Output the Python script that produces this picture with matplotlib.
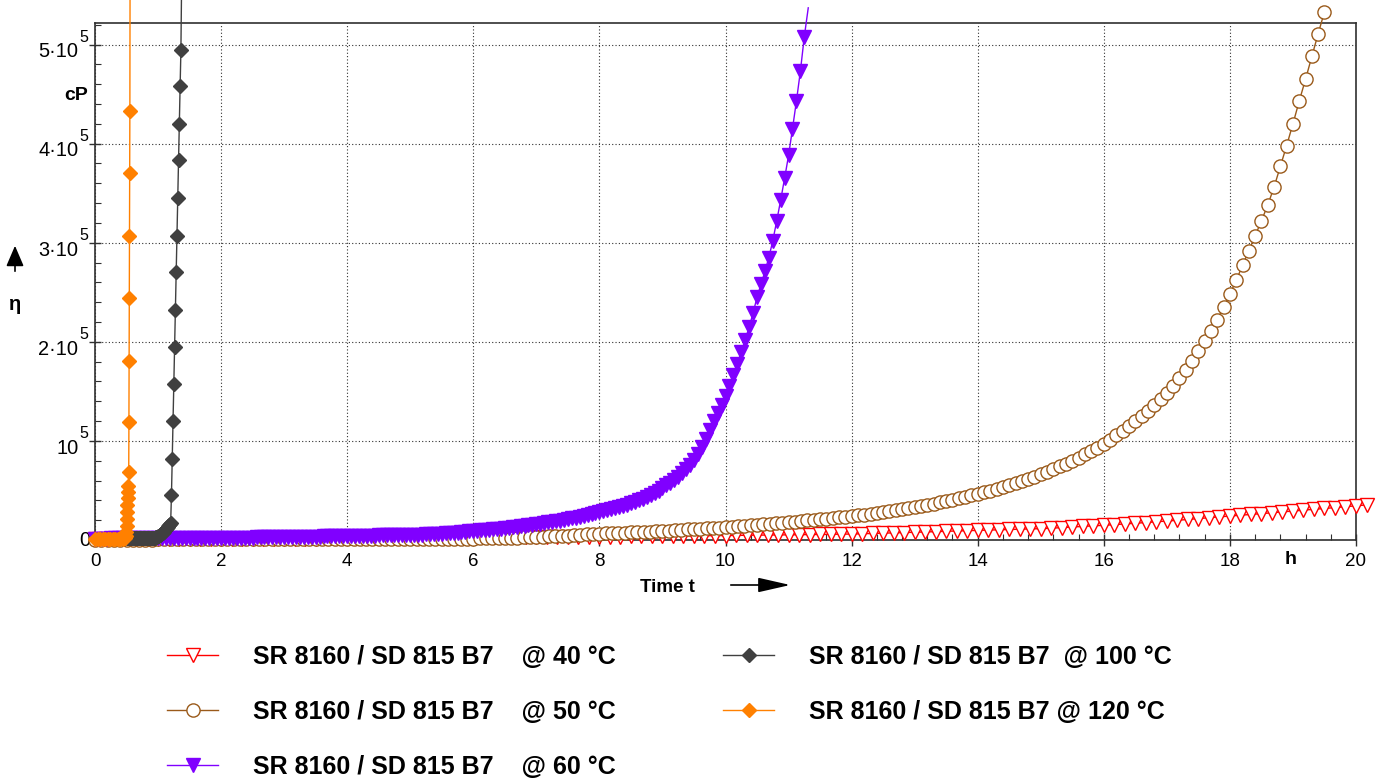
import numpy as np
import matplotlib
matplotlib.use("Agg")
import matplotlib.pyplot as plt
from matplotlib.ticker import FixedLocator, MultipleLocator
from matplotlib.transforms import ScaledTranslation

plt.rcParams['font.family'] = ['Liberation Sans', 'DejaVu Sans']

# ---------------- data (viscosity in 1000 cP) ----------------
series_labels = [
    "SR 8160 / SD 815 B7    @ 40 °C",
    "SR 8160 / SD 815 B7    @ 50 °C",
    "SR 8160 / SD 815 B7    @ 60 °C",
    "SR 8160 / SD 815 B7  @ 100 °C",
    "SR 8160 / SD 815 B7 @ 120 °C",
]

# 40 °C, sampled every 10 min
eta40_k = [
    0.8, 0.8, 0.8, 0.8, 0.9, 0.9,
    0.9, 0.9, 0.9, 1.0, 1.0, 1.0,
    1.0, 1.1, 1.1, 1.2, 1.2, 1.3,
    1.3, 1.4, 1.4, 1.5, 1.6, 1.7,
    1.8, 1.8, 1.9, 1.9, 2.0, 2.1,
    2.1, 2.2, 2.2, 2.3, 2.4, 2.4,
    2.5, 2.6, 2.6, 2.7, 2.8, 2.8,
    2.9, 3.0, 3.0, 3.1, 3.2, 3.2,
    3.3, 3.4, 3.5, 3.6, 3.7, 3.8,
    3.9, 4.0, 4.1, 4.2, 4.3, 4.4,
    4.5, 4.6, 4.8, 4.9, 5.0, 5.1,
    5.2, 5.3, 5.5, 5.6, 5.7, 5.9,
    6.0, 6.3, 6.6, 6.9, 7.2, 7.5,
    7.8, 8.1, 8.4, 8.8, 9.1, 9.4,
    9.7, 10.0, 10.3, 10.6, 10.9, 11.2,
    11.4, 11.9, 12.5, 13.1, 13.7, 14.3,
    14.8, 15.5, 16.2, 16.9, 17.6, 18.4,
    19.1, 19.9, 20.7, 21.6, 22.5, 23.3,
    24.2, 25.0, 25.8, 26.6, 27.5, 28.4,
    29.2, 30.1, 31.0, 31.8, 32.7, 33.6,
    34.5, 35.4,
]
dt40_h = 1 / 6

# 50 °C, sampled every 6 min
eta50_k = [
    0.5, 0.5, 0.5, 0.5, 0.5, 0.5, 0.5, 0.5, 0.5, 0.5,
    0.6, 0.6, 0.6, 0.6, 0.6, 0.6, 0.6, 0.6, 0.6, 0.6,
    0.6, 0.6, 0.6, 0.6, 0.6, 0.7, 0.7, 0.7, 0.7, 0.7,
    0.7, 0.7, 0.7, 0.7, 0.7, 0.8, 0.8, 0.8, 0.8, 0.8,
    0.8, 0.8, 0.8, 0.8, 0.9, 0.9, 0.9, 0.9, 0.9, 0.9,
    1.0, 1.0, 1.0, 1.1, 1.1, 1.1, 1.2, 1.2, 1.3, 1.4,
    1.5, 1.6, 1.7, 1.8, 2.0, 2.1, 2.3, 2.4, 2.6, 2.8,
    3.0, 3.3, 3.6, 3.9, 4.2, 4.5, 4.9, 5.3, 5.7, 6.1,
    6.5, 6.8, 7.0, 7.3, 7.5, 7.8, 8.0, 8.3, 8.5, 8.8,
    9.0, 9.4, 9.8, 10.2, 10.6, 11.0, 11.4, 11.8, 12.2, 12.6,
    13.0, 13.5, 14.0, 14.5, 15.0, 15.5, 16.0, 16.5, 17.0, 17.5,
    18.0, 18.6, 19.2, 19.8, 20.4, 21.0, 21.6, 22.2, 22.8, 23.4,
    24.0, 24.8, 25.6, 26.4, 27.3, 28.2, 29.1, 30.1, 31.0, 32.0,
    33.0, 34.2, 35.4, 36.7, 38.0, 39.4, 40.8, 42.2, 43.6, 45.0,
    46.5, 48.2, 49.9, 51.7, 53.5, 55.4, 57.4, 59.5, 61.6, 63.8,
    66.1, 68.7, 71.4, 74.2, 77.1, 80.1, 83.2, 86.4, 89.8, 93.3,
    97.0, 101.0, 105.5, 110.0, 114.8, 119.7, 124.9, 130.3, 135.9, 141.8,
    148.0, 155.5, 163.5, 172.0, 181.0, 190.5, 200.5, 211.0, 222.5, 235.0,
    248.0, 262.0, 277.0, 292.0, 307.0, 322.0, 338.0, 356.0, 377.0, 398.0,
    420.0, 443.0, 465.0, 488.0, 511.0, 533.0,
]
dt50_h = 0.1

# 60 °C, sampled every 3.75 min
eta60_k = [
    1.5, 1.5, 1.5, 1.5, 1.6, 1.6, 1.6, 1.6, 1.7, 1.7, 1.7, 1.7, 1.7, 1.8, 1.8, 1.8,
    1.8, 1.8, 1.8, 1.9, 1.9, 1.9, 1.9, 2.0, 2.0, 2.0, 2.0, 2.1, 2.1, 2.1, 2.1, 2.2,
    2.2, 2.2, 2.3, 2.3, 2.3, 2.4, 2.4, 2.5, 2.5, 2.6, 2.6, 2.7, 2.7, 2.8, 2.8, 2.9,
    3.0, 3.0, 3.1, 3.1, 3.2, 3.3, 3.3, 3.4, 3.4, 3.5, 3.6, 3.6, 3.7, 3.8, 3.9, 3.9,
    4.0, 4.1, 4.1, 4.2, 4.3, 4.4, 4.4, 4.5, 4.6, 4.7, 4.7, 4.8, 4.9, 5.0, 5.1, 5.1,
    5.2, 5.3, 5.4, 5.5, 5.7, 5.8, 6.0, 6.2, 6.5, 6.7, 6.9, 7.2, 7.5, 7.9, 8.2, 8.6,
    9.0, 9.3, 9.7, 10.0, 10.4, 10.8, 11.1, 11.5, 12.0, 12.4, 12.8, 13.3, 13.8, 14.4, 14.9, 15.5,
    16.0, 16.6, 17.2, 17.8, 18.4, 19.0, 19.6, 20.3, 21.0, 21.8, 22.6, 23.4, 24.3, 25.2, 26.1, 27.0,
    28.0, 29.0, 30.0, 31.1, 32.2, 33.3, 34.5, 35.8, 37.0, 38.5, 40.0, 41.8, 43.6, 45.6, 47.7, 49.8,
    52.0, 55.0, 58.0, 61.0, 64.0, 68.0, 72.0, 76.0, 81.0, 87.0, 94.0, 102.0, 111.0, 120.0, 128.0, 136.0,
    145.0, 155.0, 166.0, 178.0, 190.0, 202.0, 215.0, 229.0, 245.0, 258.0, 271.0, 285.0, 302.0, 322.0, 343.0, 365.0,
    388.0, 415.0, 443.0, 473.0, 508.0, 537.0,
]
dt60_h = 0.0625

# 100 °C, sampled every 45 s starting at 0.5 h
eta100_k = [
    1.8, 1.8, 1.8, 1.8, 1.8, 1.9, 1.9, 1.9, 1.9, 1.9, 1.9, 1.9,
    2.0, 2.0, 2.0, 2.0, 2.0, 2.0, 2.0, 2.0, 2.0, 2.1, 2.1, 2.1,
    2.1, 2.1, 2.1, 2.2, 2.2, 2.2, 2.2, 2.2, 2.3, 2.3, 2.3, 2.4,
    2.5, 2.7, 3.0, 3.4, 3.8, 4.3, 4.8, 5.4, 6.0, 6.7, 7.4, 8.2,
    9.0, 10.0, 11.0, 12.0, 13.0, 14.0, 15.2, 16.4, 17.5,
    45.0, 82.0, 120.0, 157.0, 195.0, 232.0, 270.0, 307.0, 345.0,
    383.0, 420.0, 458.0, 494.0, 570.0,
]
t100_start_h = 0.5
dt100_h = 0.0125

# 120 °C
t120_h = [0.00, 0.04, 0.08, 0.12, 0.16, 0.20, 0.24, 0.28, 0.32, 0.36, 0.40, 0.44,
          0.46, 0.48, 0.49, 0.495, 0.500, 0.505, 0.510, 0.515, 0.520, 0.525, 0.530,
          0.535, 0.538, 0.541, 0.544, 0.547, 0.550, 0.553, 0.556]
eta120_k = [1.2, 1.2, 1.2, 1.2, 1.2, 1.3, 1.3, 1.3, 1.3, 1.4, 1.4, 1.5,
            1.8, 2.5, 4.0, 8.0, 14.0, 21.0, 28.0, 35.0, 42.0, 48.0, 54.0,
            68.5, 119.0, 181.0, 244.0, 307.0, 370.0, 433.0, 560.0]

x_ticks = [0, 2, 4, 6, 8, 10, 12, 14, 16, 18, 20]
x_tick_labels = ["0", "2", "4", "6", "8", "10", "12", "14", "16", "18", "20"]
y_ticks = [0, 1e5, 2e5, 3e5, 4e5, 5e5]
y_tick_main = ["0", "10", "2·10", "3·10", "4·10", "5·10"]
y_tick_sup = ["", "5", "5", "5", "5", "5"]

# ---------------- build arrays ----------------
eta40 = np.array(eta40_k) * 1000
eta50 = np.array(eta50_k) * 1000
eta60 = np.array(eta60_k) * 1000
eta100 = np.array(eta100_k) * 1000
eta120 = np.array(eta120_k) * 1000
t40 = np.arange(len(eta40)) * dt40_h
t50 = np.arange(len(eta50)) * dt50_h
t60 = np.arange(len(eta60)) * dt60_h
t100 = t100_start_h + np.arange(len(eta100)) * dt100_h
t120 = np.array(t120_h)

series = [(t40, eta40), (t50, eta50), (t60, eta60), (t100, eta100), (t120, eta120)]
styles = [
    dict(color="#ff0000", marker="v", mfc="white", mec="#ff0000", ms=10.5, mew=1.0),
    dict(color="#9a5a1a", marker="o", mfc="white", mec="#9a5a1a", ms=9.5, mew=1.0),
    dict(color="#8000ff", marker="v", mfc="#8000ff", mec="#8000ff", ms=10.5, mew=1.0),
    dict(color="#404040", marker="D", mfc="#404040", mec="#404040", ms=6.8, mew=1.0),
    dict(color="#ff8000", marker="D", mfc="#ff8000", mec="#ff8000", ms=6.8, mew=1.0),
]

W, H = 1383, 783
fig = plt.figure(figsize=(W / 100, H / 100), dpi=100)
ax_l, ax_r, ax_t, ax_b = 95, 1356, 22.7, 540
ax = fig.add_axes([ax_l / W, 1 - ax_b / H, (ax_r - ax_l) / W, (ax_b - ax_t) / H])

YMAX = 522000
MARK_MAX = 534000
handles = []
for (t, v), st, lab in zip(series, styles, series_labels):
    h, = ax.plot(t, v, linestyle="-", lw=1.0, markevery=list(v <= MARK_MAX),
                 clip_on=False, zorder=4, label=lab, **st)
    handles.append(h)

ax.set_xlim(0, 20)
ax.set_ylim(0, YMAX)
ax.xaxis.set_major_locator(FixedLocator(x_ticks))
ax.set_xticklabels(x_tick_labels)
ax.xaxis.set_minor_locator(MultipleLocator(0.4))
ax.yaxis.set_major_locator(FixedLocator(y_ticks))
ax.set_yticklabels([""] * len(y_ticks))
ax.yaxis.set_minor_locator(MultipleLocator(20000))

ax.tick_params(which="major", direction="inout", length=8, width=1.0,
               color="#303030", labelsize=13.5, labelcolor="black")
ax.tick_params(which="minor", direction="in", length=4, width=0.8, color="#303030")
ax.tick_params(axis="x", which="major", pad=5)
ax.tick_params(top=False, right=False, which="both")
for s in ax.spines.values():
    s.set_color("#303030")
    s.set_linewidth(1.2)
ax.grid(True, which="major", linestyle=(0, (1, 2)), color="#303030", lw=0.8)
ax.set_axisbelow(True)

# y tick labels: base text plus raised exponent
ytr = ax.get_yaxis_transform()
for yv, main, sup in zip(y_ticks, y_tick_main, y_tick_sup):
    if sup:
        off = ScaledTranslation(-16.7 / 100, -7.3 / 100, fig.dpi_scale_trans)
        ax.text(0, yv, main, transform=ytr + off, ha="right", va="center",
                fontsize=14.4)
        off2 = ScaledTranslation(-15.2 / 100, 7.2 / 100, fig.dpi_scale_trans)
        ax.text(0, yv, sup, transform=ytr + off2, ha="left", va="center",
                fontsize=11.5)
    else:
        off = ScaledTranslation(-5 / 100, 0, fig.dpi_scale_trans)
        ax.text(0, yv, main, transform=ytr + off, ha="right", va="center",
                fontsize=14.4)

# axis annotations
ax.text(-7 / (ax_r - ax_l), (ax_b - 95.5) / (ax_b - ax_t), "cP", transform=ax.transAxes,
        ha="right", va="center", fontsize=14, fontweight="bold")
ax.text(18.97, -(560 - ax_b) / (ax_b - ax_t), "h", transform=ax.get_xaxis_transform(),
        ha="center", va="center", fontsize=14, fontweight="bold")
fig.text(15 / W, 1 - 304 / H, "η", ha="center", va="center", fontsize=14.5, fontweight="bold")
fig.text(667 / W, 1 - 587 / H, "Time t", ha="center", va="center", fontsize=13.5,
         fontweight="bold")
fig.add_artist(matplotlib.patches.FancyArrowPatch(
    (15 / W, 1 - 274 / H), (15 / W, 1 - 243 / H), transform=fig.transFigure,
    arrowstyle="-|>,head_length=0.7,head_width=0.3", mutation_scale=18,
    color="black", lw=1.2))
fig.add_artist(matplotlib.patches.FancyArrowPatch(
    (728 / W, 1 - 585 / H), (793 / W, 1 - 585 / H), transform=fig.transFigure,
    arrowstyle="-|>,head_length=1.1,head_width=0.25", mutation_scale=18,
    color="black", lw=1.2))

fig.legend(handles=handles, labels=series_labels, ncol=2, loc="upper left",
           bbox_to_anchor=(167 / W, 1 - 645 / H), frameon=False,
           prop=dict(weight="bold", size=18), handlelength=2.04, handletextpad=1.4,
           labelspacing=1.24, columnspacing=4.3, borderpad=0, borderaxespad=0,
           numpoints=1)

fig.savefig("out.png", dpi=100)
